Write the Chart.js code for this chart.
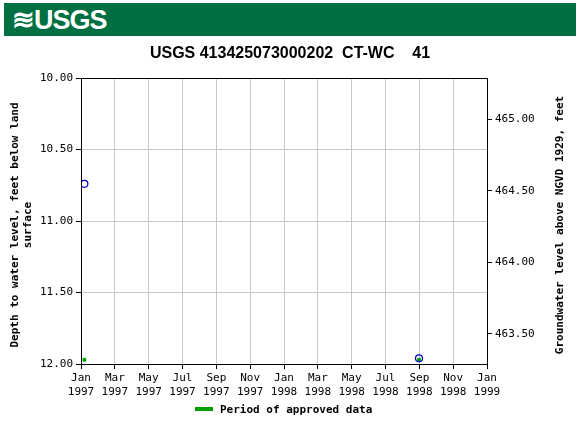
<!DOCTYPE html>
<html>
<head>
<meta charset="utf-8">
<script src="https://cdn.jsdelivr.net/npm/chart.js@4"></script>
<style>
  body { margin: 0; background: #fff; }
  #wrap { position: relative; width: 580px; height: 430px; }
  #hdr { position: absolute; left: 4px; top: 3px; width: 572px; height: 33px; background: #006f41; }
  #hdr span { position: absolute; left: 8px; top: 1px; color: #fff; font: bold 27px "Liberation Sans", Arial, sans-serif; letter-spacing: -1px; }
  canvas { position: absolute; left: 0; top: 0; }
</style>
</head>
<body>
<div id="wrap">
  <div id="hdr"><span>≋USGS</span></div>
  <canvas id="grafico" width="580" height="430"></canvas>
</div>
<script>
// months counted from Jan 1997
var monthLabels = ["Jan", "Mar", "May", "Jul", "Sep", "Nov"];
var puntosMes = [0.2, 19.98];
var profundidad = [10.74, 11.96];
var aprobadoMes = [0.2, 19.98];
var aprobadoNivel = [11.97, 11.97];
var leftTicks = [10, 10.5, 11, 11.5, 12];
var rightTicks = [463.5, 464, 464.5, 465];
var datum = 475.29;

var mono = "'DejaVu Sans Mono', monospace";

var marcos = {
    id: "marcos",
    afterDraw: function (chart) {
        var ctx = chart.ctx;
        var a = chart.chartArea;
        ctx.save();
        ctx.strokeStyle = "#000";
        ctx.lineWidth = 1;
        ctx.strokeRect(a.left + 0.5, a.top + 0.5, a.right - a.left, a.bottom - a.top);
        ctx.fillStyle = "#000";
        ctx.font = "bold 16px 'Liberation Sans', Arial, sans-serif";
        ctx.textAlign = "center";
        ctx.fillText("USGS 413425073000202  CT-WC    41", 290, 58);
        // axis titles
        ctx.font = "bold 11px " + mono;
        ctx.save();
        ctx.translate(18, 225);
        ctx.rotate(-Math.PI / 2);
        ctx.fillText("Depth to water level, feet below land", 0, 0);
        ctx.fillText("surface", 0, 13);
        ctx.restore();
        ctx.save();
        ctx.translate(563, 225);
        ctx.rotate(-Math.PI / 2);
        ctx.fillText("Groundwater level above NGVD 1929, feet", 0, 0);
        ctx.restore();
        // legend
        ctx.fillStyle = "#00a000";
        ctx.fillRect(195, 407, 18, 4);
        ctx.fillStyle = "#000";
        ctx.textAlign = "left";
        ctx.fillText("Period of approved data", 220, 413);
        ctx.restore();
    }
};

var ctx = document.getElementById("grafico").getContext("2d");
var myChart = new Chart(ctx, {
    type: "scatter",
    data: {
        datasets: [{
            label: "Depth",
            data: puntosMes.map(function (m, i) { return { x: m, y: profundidad[i] }; }),
            pointStyle: "circle",
            pointRadius: 3.5,
            borderColor: "#0000cc",
            backgroundColor: "rgba(0,0,0,0)",
            borderWidth: 1.2
        }, {
            label: "Period of approved data",
            data: aprobadoMes.map(function (m, i) { return { x: m, y: aprobadoNivel[i] }; }),
            pointStyle: "rect",
            pointRadius: 2,
            borderColor: "#00a000",
            backgroundColor: "#00a000"
        }]
    },
    options: {
        responsive: false,
        animation: false,
        layout: { padding: { top: 78, left: 0, right: 0, bottom: 0 } },
        plugins: { legend: { display: false }, tooltip: { enabled: false } },
        scales: {
            x: {
                type: "linear", min: 0, max: 24,
                afterFit: function (s) { s.height = 66; },
                afterBuildTicks: function (s) {
                    var t = [];
                    for (var m = 0; m <= 24; m += 2) t.push({ value: m });
                    s.ticks = t;
                },
                ticks: {
                    color: "#000", font: { family: mono, size: 11 }, maxRotation: 0,
                    callback: function (v) { return [monthLabels[(v % 12) / 2], String(1997 + Math.floor(v / 12))]; }
                },
                grid: { color: "#c8c8c8", tickLength: 5, tickColor: "#000" },
                border: { display: false }
            },
            y: {
                position: "left", reverse: true, min: 10, max: 12,
                afterFit: function (s) { s.width = 81; },
                afterBuildTicks: function (s) { s.ticks = leftTicks.map(function (v) { return { value: v }; }); },
                ticks: { color: "#000", font: { family: mono, size: 11 }, callback: function (v) { return v.toFixed(2); } },
                grid: { color: "#c8c8c8", tickLength: 5, tickColor: "#000" },
                border: { display: false }
            },
            y2: {
                position: "right", min: datum - 12, max: datum - 10,
                afterFit: function (s) { s.width = 93; },
                afterBuildTicks: function (s) { s.ticks = rightTicks.map(function (v) { return { value: v }; }); },
                ticks: { color: "#000", font: { family: mono, size: 11 }, callback: function (v) { return v.toFixed(2); } },
                grid: { drawOnChartArea: false, tickLength: 5, tickColor: "#000" },
                border: { display: false }
            }
        }
    },
    plugins: [marcos]
});
</script>
</body>
</html>
